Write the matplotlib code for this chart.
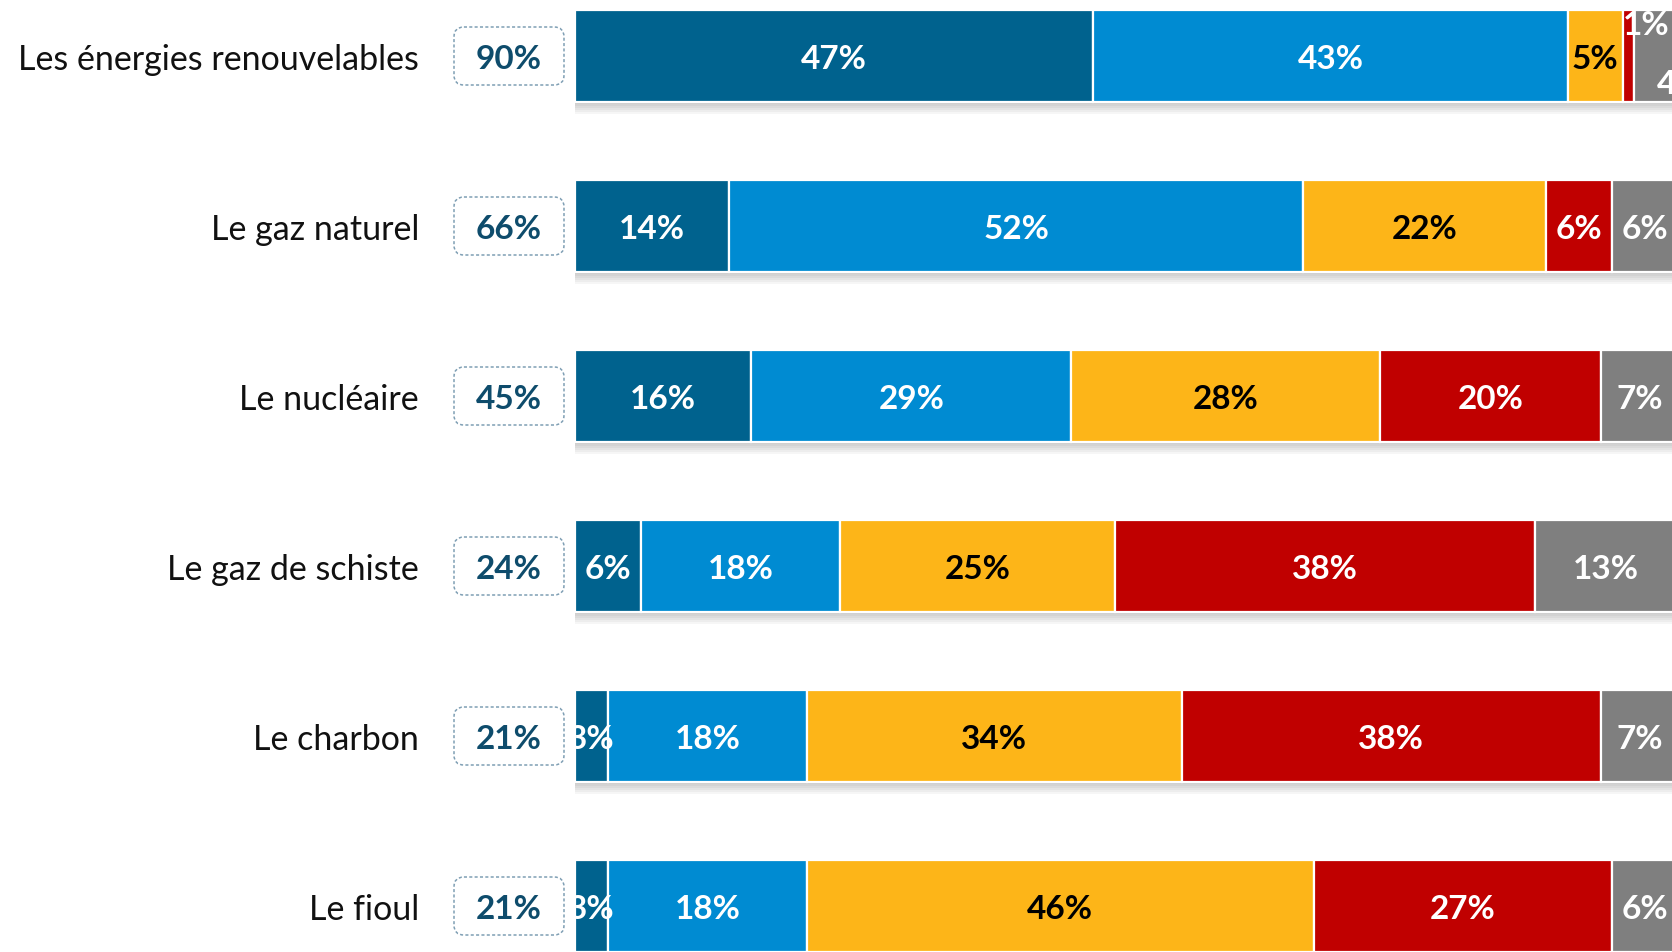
import numpy as np
import matplotlib.pyplot as plt
from matplotlib.patches import FancyBboxPatch

plt.rcParams['font.family'] = ['Lato', 'DejaVu Sans']

# data
categories = ["Les énergies renouvelables", "Le gaz naturel", "Le nucléaire",
              "Le gaz de schiste", "Le charbon", "Le fioul"]
tres_favorable = [47, 14, 16, 6, 3, 3]
plutot_favorable = [43, 52, 29, 18, 18, 18]
plutot_opposé = [5, 22, 28, 25, 34, 46]
tres_opposé = [1, 6, 20, 38, 38, 27]
nsp = [4, 6, 7, 13, 7, 6]
totals = ["90%", "66%", "45%", "24%", "21%", "21%"]

series = [tres_favorable, plutot_favorable, plutot_opposé, tres_opposé, nsp]
colors = ["#00628e", "#008bd2", "#fdb518", "#c00000", "#7f7f7f"]
text_colors = ["white", "white", "black", "white", "white"]

# pixel layout helpers (figure is 1672x952 at dpi 100)
W, H = 1672, 952
x0_px, px_per_pct = 575, 11.03
y0_px, row_px, bar_px = 56, 170, 92

fig = plt.figure(figsize=(W / 100, H / 100), dpi=100)
ax = fig.add_axes([0, 0, 1, 1])
ax.set_xlim(-x0_px / px_per_pct, (W - x0_px) / px_per_pct)
ax.set_ylim((H - y0_px) / row_px, -y0_px / row_px)
ax.axis("off")

y = np.arange(len(categories))
h = bar_px / row_px
dy = 0.022  # small downward nudge for text

# soft shadow under each bar
for k in range(6):
    ax.barh(y + 0.012 * (k + 1), 100.5, left=0, height=h, color="black",
            alpha=0.035, linewidth=0, zorder=1)

left = np.zeros(len(categories))
for vals, col, tcol in zip(series, colors, text_colors):
    vals = np.array(vals, dtype=float)
    ax.barh(y, vals, left=left, height=h, color=col, edgecolor="white",
            linewidth=1.6, zorder=2)
    for i, v in enumerate(vals):
        cx = left[i] + v / 2
        cy = y[i] + dy
        # tiny segments on the first bar get their labels pushed aside
        if v <= 1:
            cy = y[i] - 0.18
            cx = left[i] + v / 2 + 1.6
        elif v <= 4 and i == 0:
            cy = y[i] + 0.17
            cx = left[i] + v / 2 + 2.2
        ax.text(cx, cy, f"{int(v)}%", ha="center", va="center", color=tcol,
                fontsize=24, fontweight="bold", zorder=4)
    left += vals

# category labels and total boxes
box_cx = (509 - x0_px) / px_per_pct
box_w = 110 / px_per_pct
box_h = 58 / row_px
for i, (cat, tot) in enumerate(zip(categories, totals)):
    ax.text((419 - x0_px) / px_per_pct, y[i] + dy, cat, ha="right", va="center",
            fontsize=24.5, color="#111111")
    box = FancyBboxPatch((box_cx - box_w / 2, y[i] - box_h / 2), box_w, box_h,
                         boxstyle="round,pad=0,rounding_size=0.9",
                         mutation_aspect=px_per_pct / row_px,
                         facecolor="white", edgecolor="#7f9fb4", linewidth=1.1,
                         linestyle=(0, (2, 1.5)), zorder=3)
    ax.add_patch(box)
    ax.text(box_cx, y[i] + dy, tot, ha="center", va="center", fontsize=24,
            fontweight="bold", color="#0e4c6c", zorder=4)

fig.savefig("out.png", dpi=100)
